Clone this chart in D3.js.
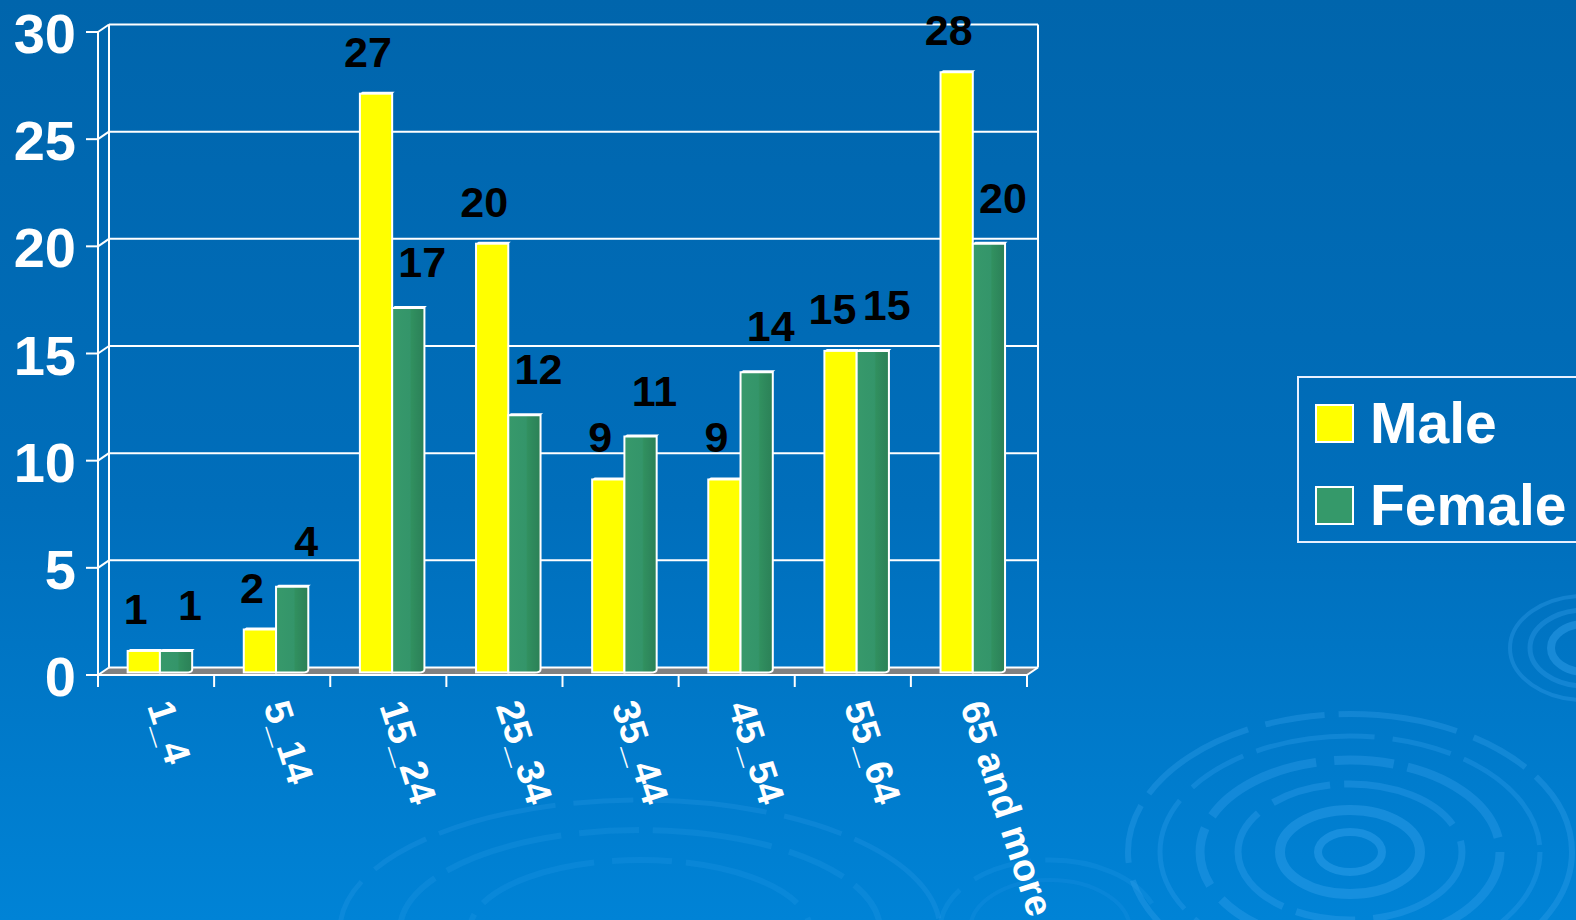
<!DOCTYPE html>
<html>
<head>
<meta charset="utf-8">
<script src="https://cdn.jsdelivr.net/npm/d3@7/dist/d3.min.js"></script>
<style>
  html, body { margin: 0; padding: 0; overflow: hidden; background: #0068b0; }
  svg { display: block; }
  text { font-family: "Liberation Sans", Arial, Helvetica, sans-serif; font-weight: bold; }
</style>
</head>
<body>
<svg id="chart" width="1576" height="920"></svg>
<script>
// ---- data ----
const categories = ["1_4", "5_14", "15_24", "25_34", "35_44", "45_54", "55_64", "65 and more"];
const seriesNames = ["Male", "Female"];
const maleValues = [1, 2, 27, 20, 9, 9, 15, 28];
const femaleValues = [1, 4, 17, 12, 11, 14, 15, 20];
const yTicks = [0, 5, 10, 15, 20, 25, 30];

// ---- layout ----
const W = 1576, H = 920;
const svg = d3.select("#chart");
const DX = 11, DY = -7.5;          // depth of back wall
const BT = 0.35;                   // bar depth position (fraction)
const colors = { Male: "#ffff00", Female: "#35996a" };
const labelShift = { Male: -8, Female: 14 };
const labelGap = { Male: 27, Female: 31 };

const x0 = d3.scaleBand().domain(categories).range([98, 1027]).paddingInner(0).paddingOuter(0);
const x1 = d3.scaleBand().domain(seriesNames).range([0, x0.bandwidth()]).paddingInner(0).paddingOuter(0.8);
const y = d3.scaleLinear().domain([0, 30]).range([675, 32]);

// ---- background ----
const defs = svg.append("defs");
const bg = defs.append("linearGradient").attr("id", "bg").attr("x1", 0).attr("y1", 0).attr("x2", 0).attr("y2", 1);
bg.append("stop").attr("offset", "0%").attr("stop-color", "#0065ac");
bg.append("stop").attr("offset", "55%").attr("stop-color", "#006ebb");
bg.append("stop").attr("offset", "100%").attr("stop-color", "#0083d6");
svg.append("rect").attr("width", W).attr("height", H).attr("fill", "url(#bg)");

const fg = defs.append("linearGradient").attr("id", "fem").attr("x1", 0).attr("y1", 0).attr("x2", 1).attr("y2", 0);
[["0%", "#37996b"], ["55%", "#34956a"], ["60%", "#31905f"], ["78%", "#2e885c"], ["100%", "#2b8156"]]
  .forEach(s => fg.append("stop").attr("offset", s[0]).attr("stop-color", s[1]));

// decorative ripples
const rip = svg.append("g").attr("fill", "none");
const ripples = [
  { cx: 1350, cy: 852, rings: [[222, 138, 6, 0.3], [190, 116, 5, 0.28], [150, 92, 9, 0.32], [112, 68, 7, 0.32], [70, 42, 10, 0.38], [32, 20, 8, 0.42]] },
  { cx: 1585, cy: 648, rings: [[75, 52, 4, 0.32], [55, 38, 5, 0.32], [34, 24, 8, 0.42]] },
  { cx: 640, cy: 930, rings: [[300, 130, 5, 0.2], [240, 100, 6, 0.18], [170, 70, 6, 0.16]] },
  { cx: 1050, cy: 930, rings: [[110, 70, 5, 0.16], [80, 50, 4, 0.14]] }
];
ripples.forEach(r => r.rings.forEach(k => {
  rip.append("ellipse").attr("cx", r.cx).attr("cy", r.cy).attr("rx", k[0]).attr("ry", k[1])
    .attr("stroke", "#3aa6f0").attr("stroke-width", k[2]).attr("stroke-opacity", k[3])
    .attr("stroke-dasharray", k[0] > 100 ? "120 18 60 14" : null);
}));

// ---- walls / grid ----
const xL = x0.range()[0], xR = x0.range()[1];

svg.append("polygon")
  .attr("points", [[xL, y(0)], [xL + DX, y(0) + DY], [xR + DX, y(0) + DY], [xR, y(0)]].map(p => p.join(",")).join(" "))
  .attr("fill", "#808080");

const grid = svg.append("g").attr("stroke", "#ffffff").attr("stroke-width", 2).attr("fill", "none");
grid.selectAll("line.g").data(yTicks).join("line").attr("class", "g")
  .attr("x1", xL + DX).attr("x2", xR + DX)
  .attr("y1", d => y(d) + DY).attr("y2", d => y(d) + DY);
grid.append("line").attr("x1", xL + DX).attr("x2", xL + DX).attr("y1", y(0) + DY).attr("y2", y(30) + DY);
grid.append("line").attr("x1", xR + DX).attr("x2", xR + DX).attr("y1", y(0) + DY).attr("y2", y(30) + DY);
grid.selectAll("line.d").data(yTicks).join("line").attr("class", "d")
  .attr("x1", xL).attr("x2", xL + DX)
  .attr("y1", d => y(d)).attr("y2", d => y(d) + DY);
grid.append("line").attr("x1", xR).attr("x2", xR + DX).attr("y1", y(0)).attr("y2", y(0) + DY);

// ---- bars ----
const ox = DX * BT, oy = DY * BT;
const barData = [];
categories.forEach((c, i) => {
  barData.push({ cat: c, s: "Male", v: maleValues[i] });
  barData.push({ cat: c, s: "Female", v: femaleValues[i] });
});
const bars = svg.append("g");
barData.forEach(d => {
  const bx = x0(d.cat) + x1(d.s) + ox;
  const bw = x1.bandwidth();
  const top = y(d.v) + oy, bot = y(0) + oy;
  const g = bars.append("g");
  g.append("polygon")
    .attr("points", [[bx, top], [bx + 2.5, top - 2], [bx + bw + 2.5, top - 2], [bx + bw, top]].map(p => p.join(",")).join(" "))
    .attr("fill", "#ffffff");
  if (d.s === "Male") {
    g.append("rect").attr("x", bx).attr("y", top).attr("width", bw).attr("height", bot - top)
      .attr("fill", colors.Male).attr("stroke", "#ffffff").attr("stroke-width", 2);
  } else {
    g.append("path")
      .attr("d", `M${bx},${top} L${bx + bw},${top} L${bx + bw},${bot - 3} Q${bx + bw},${bot} ${bx + bw - 6},${bot} L${bx},${bot} Z`)
      .attr("fill", "url(#fem)").attr("stroke", "#ffffff").attr("stroke-width", 2);
  }
});

// value labels
svg.append("g").selectAll("text").data(barData).join("text")
  .attr("x", d => x0(d.cat) + x1(d.s) + ox + x1.bandwidth() / 2 + labelShift[d.s])
  .attr("y", d => y(d.v) + oy - labelGap[d.s])
  .attr("text-anchor", "middle").attr("font-size", 43).attr("fill", "#000000")
  .text(d => d.v);

// ---- front axes ----
const ax = svg.append("g").attr("stroke", "#ffffff").attr("stroke-width", 2);
ax.append("line").attr("x1", xL).attr("x2", xL).attr("y1", y(0)).attr("y2", y(30));
ax.selectAll("line.t").data(yTicks).join("line").attr("class", "t")
  .attr("x1", xL - 12).attr("x2", xL).attr("y1", d => y(d)).attr("y2", d => y(d));
ax.append("line").attr("x1", xL - 1).attr("x2", xR).attr("y1", y(0)).attr("y2", y(0));
const bounds = categories.map(c => x0(c)).concat([xR]);
ax.selectAll("line.x").data(bounds).join("line").attr("class", "x")
  .attr("x1", d => d).attr("x2", d => d).attr("y1", y(0)).attr("y2", y(0) + 12);

// y tick labels
svg.append("g").selectAll("text").data(yTicks).join("text")
  .attr("x", 76).attr("y", d => y(d) + 21)
  .attr("text-anchor", "end").attr("font-size", 56).attr("fill", "#ffffff")
  .text(d => d);

// x labels (rotated)
svg.append("g").selectAll("text").data(categories).join("text")
  .attr("transform", d => `translate(${x0(d) + x0.bandwidth() / 2 - 9},706) rotate(72)`)
  .attr("text-anchor", "start").attr("font-size", 38).attr("fill", "#ffffff")
  .text(d => d);

// ---- legend ----
const lg = svg.append("g");
lg.append("rect").attr("x", 1298).attr("y", 377).attr("width", 300).attr("height", 165)
  .attr("fill", "none").attr("stroke", "#e8f0ff").attr("stroke-width", 2);
seriesNames.forEach((s, i) => {
  const yy = 405 + i * 82;
  lg.append("rect").attr("x", 1316).attr("y", yy).attr("width", 37).attr("height", 37)
    .attr("fill", colors[s]).attr("stroke", "#ffffff").attr("stroke-width", 2);
  lg.append("text").attr("x", 1370).attr("y", yy + 38).attr("font-size", 57).attr("fill", "#ffffff").text(s);
});
</script>
</body>
</html>
